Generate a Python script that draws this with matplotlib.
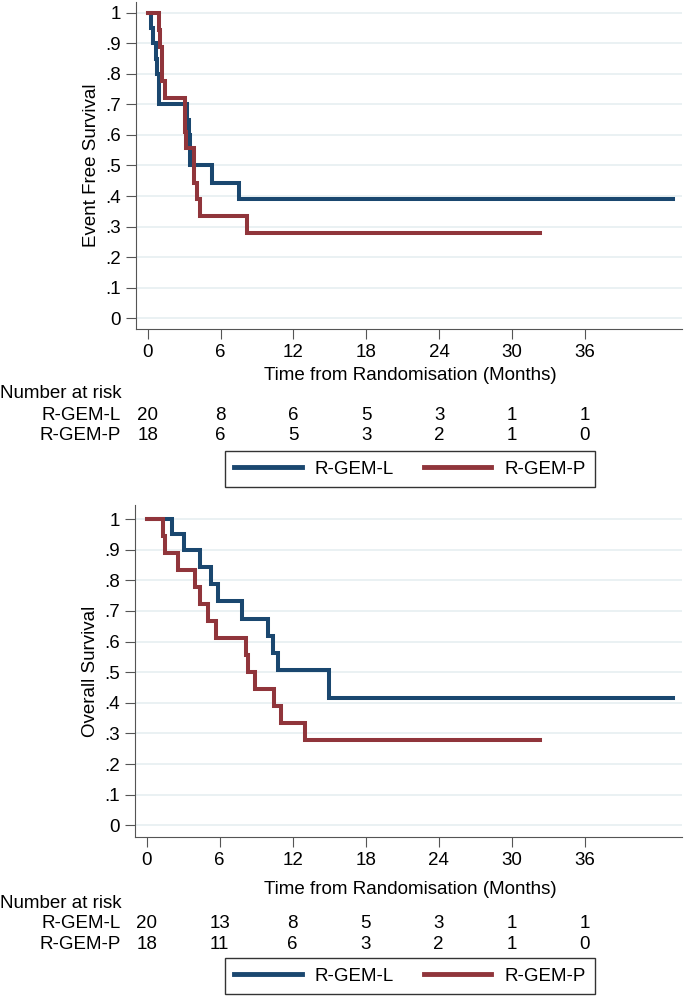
import numpy as np
import matplotlib.pyplot as plt
from matplotlib.lines import Line2D
from matplotlib.transforms import blended_transform_factory

plt.rcParams['font.family'] = ['Liberation Sans', 'DejaVu Sans']

# Event free survival (months, survival probability)
efs_l_t = [0, 0.25, 0.46, 0.7, 0.8, 0.9, 0.95, 3.26, 3.4, 3.45, 3.5, 5.27, 7.55, 43.3]
efs_l_s = [1, 0.95, 0.90, 0.85, 0.80, 0.75, 0.70, 0.65, 0.60, 0.55, 0.50, 0.444, 0.389, 0.389]
efs_p_t = [0, 0.96, 1.0, 1.15, 1.2, 1.43, 3.05, 3.1, 3.15, 3.8, 4.1, 4.35, 8.2, 32.3]
efs_p_s = [1, 0.944, 0.889, 0.833, 0.778, 0.722, 0.667, 0.611, 0.556, 0.444, 0.389, 0.333, 0.278, 0.278]

# Overall survival
os_l_t = [0, 2.1, 3.1, 4.35, 5.3, 5.9, 7.8, 9.97, 10.37, 10.8, 14.95, 43.3]
os_l_s = [1, 0.95, 0.90, 0.843, 0.787, 0.731, 0.675, 0.618, 0.562, 0.506, 0.417, 0.417]
os_p_t = [0, 1.35, 1.5, 2.6, 3.95, 4.35, 5.05, 5.7, 8.2, 8.3, 8.9, 10.5, 11.0, 13.0, 32.3]
os_p_s = [1, 0.944, 0.889, 0.833, 0.778, 0.722, 0.667, 0.611, 0.556, 0.5, 0.444, 0.389, 0.333, 0.278, 0.278]

risk_times = [0, 6, 12, 18, 24, 30, 36]
efs_risk_l = [20, 8, 6, 5, 3, 1, 1]
efs_risk_p = [18, 6, 5, 3, 2, 1, 0]
os_risk_l = [20, 13, 8, 5, 3, 1, 1]
os_risk_p = [18, 11, 6, 3, 2, 1, 0]

groups = ['R-GEM-L', 'R-GEM-P']
ytick_vals = [0, .1, .2, .3, .4, .5, .6, .7, .8, .9, 1]
ytick_labels = ['0', '.1', '.2', '.3', '.4', '.5', '.6', '.7', '.8', '.9', '1']

blue = '#1a476f'
red = '#90353b'
fs = 13.5
W, H = 685, 997

fig = plt.figure(figsize=(6.85, 9.97), dpi=100)


def panel(rect, ylim, lt, ls, pt, ps, ylabel, xlab_y, y_num, y_l, y_p, y_leg, rl, rp):
    ax = fig.add_axes(rect)
    ax.step(lt, ls, where='post', color=blue, lw=2.9, solid_joinstyle='miter')
    ax.step(pt, ps, where='post', color=red, lw=2.9, solid_joinstyle='miter')
    ax.set_xlim(-0.96, 44.0)
    ax.set_ylim(*ylim)
    ax.set_xticks(risk_times)
    ax.set_yticks(ytick_vals)
    ax.set_yticklabels(ytick_labels)
    ax.yaxis.grid(True, color='#e6eff1', lw=1.2)
    ax.set_axisbelow(True)
    for s in ['top', 'right']:
        ax.spines[s].set_visible(False)
    for s in ['left', 'bottom']:
        ax.spines[s].set_color('#555555')
    ax.tick_params(length=7, color='#555555', labelsize=fs, pad=4)
    ax.set_ylabel(ylabel, fontsize=fs)
    ax.yaxis.set_label_coords(-0.066, 0.5)
    fig.text(410 / W, 1 - xlab_y / H, 'Time from Randomisation (Months)',
             fontsize=fs, ha='center', va='center')
    # number at risk table
    tr = blended_transform_factory(ax.transData, fig.transFigure)
    fig.text(0, 1 - y_num / H, 'Number at risk', fontsize=fs, ha='left', va='center')
    fig.text(121 / W, 1 - y_l / H, groups[0], fontsize=fs, ha='right', va='center')
    fig.text(121 / W, 1 - y_p / H, groups[1], fontsize=fs, ha='right', va='center')
    for t, a, b in zip(risk_times, rl, rp):
        ax.text(t, 1 - y_l / H, str(a), transform=tr, fontsize=fs, ha='center', va='center')
        ax.text(t, 1 - y_p / H, str(b), transform=tr, fontsize=fs, ha='center', va='center')
    handles = [Line2D([], [], color=blue, lw=3.5), Line2D([], [], color=red, lw=3.5)]
    leg = fig.legend(handles, groups, loc='center', bbox_to_anchor=(410 / W, 1 - y_leg / H),
                     ncol=2, fontsize=fs, frameon=True, fancybox=False, edgecolor='black',
                     handlelength=3.6, columnspacing=1.6, borderpad=0.5, handletextpad=0.7)
    leg.get_frame().set_linewidth(1.0)
    return ax


panel([136 / W, 1 - 329 / H, 546 / W, 327 / H], (-0.036, 1.036),
      efs_l_t, efs_l_s, efs_p_t, efs_p_s, 'Event Free Survival',
      375, 393, 415, 435, 469, efs_risk_l, efs_risk_p)
panel([135 / W, 1 - 837 / H, 547 / W, 332 / H], (-0.038, 1.046),
      os_l_t, os_l_s, os_p_t, os_p_s, 'Overall Survival',
      889, 903, 924, 944, 976, os_risk_l, os_risk_p)

fig.savefig('out.png', dpi=100, facecolor='white')
